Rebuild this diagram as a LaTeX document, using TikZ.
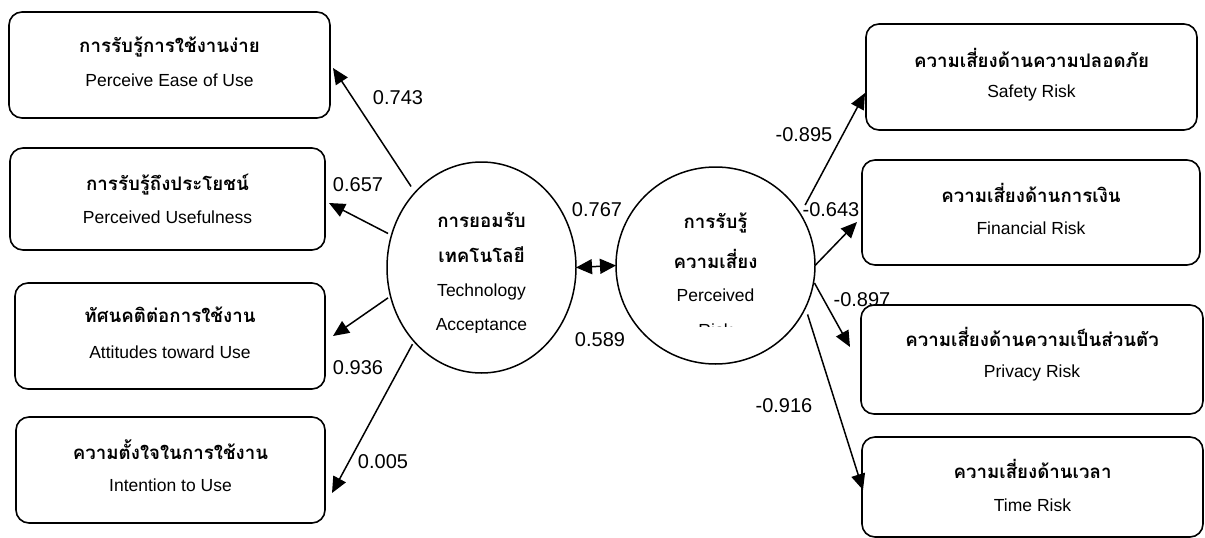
\documentclass[tikz,border=0pt]{standalone}
\usepackage{fontspec}
\setmainfont{Liberation Sans}
\newfontfamily\thaifont[Script=Thai]{Loma}
\usetikzlibrary{shapes.geometric,arrows.meta,calc}
\tikzset{
  box/.style={draw, fill=white, line width=1.6pt, rounded corners=13pt, inner sep=0pt, outer sep=0pt},
  th/.style={font=\thaifont\bfseries\fontsize{18.7}{22}\selectfont, inner sep=0pt},
  en/.style={font=\fontsize{17.5}{20}\selectfont, inner sep=0pt},
  num/.style={font=\fontsize{20}{24}\selectfont, inner sep=0pt},
  lv/.style={draw, ellipse, line width=1.5pt, inner sep=0pt, outer sep=0pt},
  arr/.style={line width=1.5pt, -{Triangle[length=16pt,width=14pt]}},
  darr/.style={line width=1.5pt, {Triangle[length=16pt,width=15pt]}-{Triangle[length=16pt,width=15pt]}}
}
\begin{document}
\begin{tikzpicture}[x=1pt,y=-1pt]
\useasboundingbox (0,0) rectangle (1205,538);
% numbers (drawn first, boxes may overlap them)
\node[num] (n1) at (398,98) {0.743};
\node[num] (n2) at (358,185) {0.657};
\node[num] (n3) at (358,368) {0.936};
\node[num] (n4) at (383,462) {0.005};
\node[num] (n5) at (597,210) {0.767};
\node[num] (n6) at (600,340) {0.589};
\node[num] (n7) at (804,135) {-0.895};
\node[num] (n8) at (831,210) {-0.643};
\node[num] (n9) at (862,300) {-0.897};
\node[num] (n10) at (784,406) {-0.916};
% left boxes
\node[box, minimum width=321pt, minimum height=106pt] (b1) at (169.5,65) {};
\node[box, minimum width=315pt, minimum height=102pt] (b2) at (167.5,199) {};
\node[box, minimum width=310pt, minimum height=106pt] (b3) at (170,336) {};
\node[box, minimum width=309pt, minimum height=106pt] (b4) at (170.5,470) {};
\node[th] (b1a) at ($(b1.north)+(0,35)$) {การรับรู้การใช้งานง่าย};
\node[en] (b1b) at ($(b1.north)+(0,68)$) {Perceive Ease of Use};
\node[th] (b2a) at ($(b2.north)+(0,37)$) {การรับรู้ถึงประโยชน์};
\node[en] (b2b) at ($(b2.north)+(0,69)$) {Perceived Usefulness};
\node[th] (b3a) at ($(b3.north)+(0,32)$) {ทัศนคติต่อการใช้งาน};
\node[en] (b3b) at ($(b3.north)+(0,69)$) {Attitudes toward Use};
\node[th] (b4a) at ($(b4.north)+(0,33)$) {ความตั้งใจในการใช้งาน};
\node[en] (b4b) at ($(b4.north)+(0,68)$) {Intention to Use};
% right boxes
\node[box, minimum width=331pt, minimum height=106pt] (sb) at (1031.5,77) {};
\node[box, minimum width=338pt, minimum height=105pt] (fb) at (1031,212.5) {};
\node[box, minimum width=342pt, minimum height=109pt] (pvb) at (1032,359.5) {};
\node[box, minimum width=341pt, minimum height=100pt] (tb) at (1032.5,487) {};
\node[th] (sba) at ($(sb.north)+(0,34)$) {ความเสี่ยงด้านความปลอดภัย};
\node[en] (sbb) at ($(sb.north)+(0,69)$) {Safety Risk};
\node[th] (fba) at ($(fb.north)+(0,33)$) {ความเสี่ยงด้านการเงิน};
\node[en] (fbb) at ($(fb.north)+(0,68)$) {Financial Risk};
\node[th] (pvba) at ($(pvb.north)+(0,32)$) {ความเสี่ยงด้านความเป็นส่วนตัว};
\node[en] (pvbb) at ($(pvb.north)+(0,68)$) {Privacy Risk};
\node[th] (tba) at ($(tb.north)+(0,32)$) {ความเสี่ยงด้านเวลา};
\node[en] (tbb) at ($(tb.north)+(0,68)$) {Time Risk};
% latent variables
\node[lv, minimum width=189pt, minimum height=211pt] (tam) at (481.5,267.5) {};
\node[lv, minimum width=199pt, minimum height=197pt] (pr) at (715.5,265.5) {};
\node[th] (tam1) at (481.5,220) {การยอมรับ};
\node[th] (tam2) at (481.5,255) {เทคโนโลยี};
\node[en] (tam3) at (481.5,292) {Technology};
\begin{scope}
  \clip (390,300) rectangle (575,332);
  \node[en] (tam4) at (481.5,326) {Acceptance};
\end{scope}
\node[th] (pr1) at (715.5,223) {การรับรู้};
\node[th] (pr2) at (715.5,259) {ความเสี่ยง};
\node[en] (pr3) at (715.5,295) {Perceived};
\begin{scope}
  \clip (620,310) rectangle (810,326);
  \node[en] (pr4) at (715.5,330) {Risk};
\end{scope}
% connector end points
\coordinate (s1) at ($(tam.center)!1.07!(tam.131.6)$);
\coordinate (s2) at ($(tam.center)!1.04!(tam.160.3)$);
\coordinate (s3) at ($(tam.center)!1.03!(tam.198.1)$);
\coordinate (s4) at ($(tam.center)!1.03!(tam.228.5)$);
\coordinate (t1) at ($(b1.east)+(3,3)$);
\coordinate (t2) at ($(b2.east)+(4,4)$);
\coordinate (t3) at ($(b3.east)+(8,0)$);
\coordinate (t4) at ($(b4.east)+(7,23)$);
\coordinate (r1) at ($(pr.center)!1.09!(pr.34.8)$);
\coordinate (r2) at ($(pr.center)!1.0!(pr.-0.9)$);
\coordinate (r3) at ($(pr.center)!1.01!(pr.-10)$);
\coordinate (r4) at ($(pr.center)!1.05!(pr.-28.4)$);
\coordinate (u1) at ($(sb.west)+(-1,16)$);
\coordinate (u2) at ($(fb.west)+(-5,9.5)$);
\coordinate (u3) at ($(pvb.west)+(-11,-12.5)$);
\coordinate (u4) at ($(tb.west)+(1,3)$);
% connectors
\draw[arr] (s1) -- (t1);
\draw[arr] (s2) -- (t2);
\draw[arr] (s3) -- (t3);
\draw[arr] (s4) -- (t4);
\draw[arr] (r1) -- (u1);
\draw[arr] (r2) -- (u2);
\draw[arr] (r3) -- (u3);
\draw[arr] (r4) -- (u4);
\draw[darr] (tam.east) -- (pr.west);
\end{tikzpicture}
\end{document}
